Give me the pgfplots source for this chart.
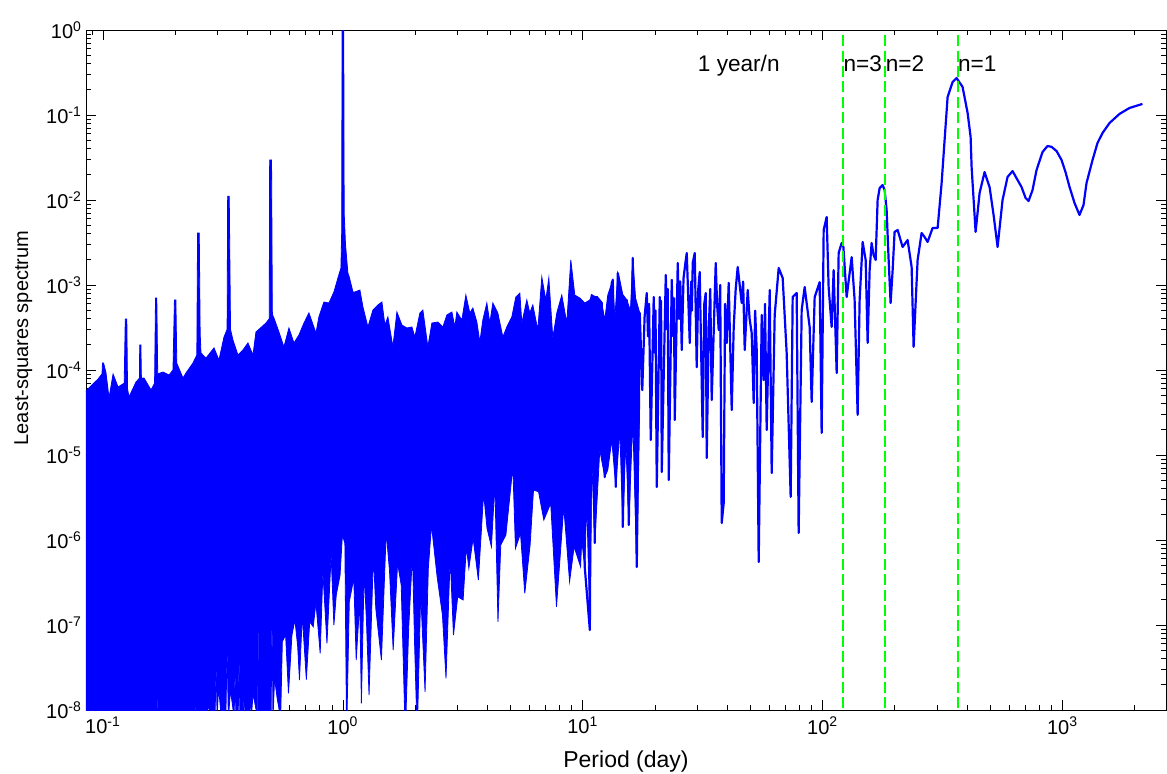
\documentclass[border=0pt]{standalone}
\usepackage{fontspec}
\setmainfont{Liberation Sans}
\usepackage{pgfplots}
\pgfplotsset{compat=1.18}
\definecolor{mblue}{rgb}{0,0,1}
\definecolor{mgreen}{rgb}{0,1,0}
\begin{document}
\begin{tikzpicture}
\useasboundingbox (-43pt,-31.5pt) rectangle (540.5pt,355pt);
\begin{axis}[
  at={(0,0)}, anchor=south west,
  scale only axis, width=540pt, height=340pt,
  xmode=log, ymode=log,
  xmin=0.0849, xmax=2700, ymin=1e-8, ymax=1,
  xtick={0.1,1,10,100,1000},
  xticklabels={10\textsuperscript{-1},10\textsuperscript{0},10\textsuperscript{1},10\textsuperscript{2},10\textsuperscript{3}},
  minor xtick={0.09,0.2,0.3,0.4,0.5,0.6,0.7,0.8,0.9,2,3,4,5,6,7,8,9,20,30,40,50,60,70,80,90,200,300,400,500,600,700,800,900,2000},
  ytick={1e-8,1e-7,1e-6,1e-5,1e-4,1e-3,1e-2,1e-1,1},
  yticklabels={10\textsuperscript{-8},10\textsuperscript{-7},10\textsuperscript{-6},10\textsuperscript{-5},10\textsuperscript{-4},10\textsuperscript{-3},10\textsuperscript{-2},10\textsuperscript{-1},10\textsuperscript{0}},
  minor ytick={2e-8,3e-8,4e-8,5e-8,6e-8,7e-8,8e-8,9e-8,
    2e-7,3e-7,4e-7,5e-7,6e-7,7e-7,8e-7,9e-7,
    2e-6,3e-6,4e-6,5e-6,6e-6,7e-6,8e-6,9e-6,
    2e-5,3e-5,4e-5,5e-5,6e-5,7e-5,8e-5,9e-5,
    2e-4,3e-4,4e-4,5e-4,6e-4,7e-4,8e-4,9e-4,
    2e-3,3e-3,4e-3,5e-3,6e-3,7e-3,8e-3,9e-3,
    0.02,0.03,0.04,0.05,0.06,0.07,0.08,0.09,
    0.2,0.3,0.4,0.5,0.6,0.7,0.8,0.9},
  tick align=inside,
  major tick length=5pt, minor tick length=2.5pt,
  every tick/.style={black, line width=0.4pt},
  yticklabel style={xshift=1.5pt},
  xlabel={Period (day)},
  ylabel={Least-squares spectrum},
  xlabel style={font=\fontsize{11.5}{13}\selectfont, at={(axis description cs:0.5,0)}, anchor=base, yshift=-28.8pt},
  ylabel style={at={(axis description cs:-0.0537,0.547)}, anchor=base},
]
% dense part of the spectrum (below ~17 days): upper envelope, then lower envelope back
\addplot[mblue, fill=mblue, line width=0.4pt] coordinates {
(0.084,5.51e-5) (0.0908,6.84e-5) (0.0953,7.83e-5) (0.0990,9.0e-5) (0.0995,1.21e-4) (0.1005,1.21e-4)
(0.1029,9.23e-5) (0.1059,4.69e-5) (0.1101,8.97e-5) (0.1155,6.31e-5) (0.1225,7.0e-5) (0.1238,3.98e-4)
(0.1256,3.98e-4) (0.1265,6.0e-5) (0.1283,4.81e-5) (0.1372,7.23e-5) (0.1418,8.0e-5) (0.1422,1.97e-4)
(0.1438,1.97e-4) (0.1445,8.0e-5) (0.1482,8.05e-5) (0.1585,5.82e-5) (0.1640,7.0e-5) (0.1655,7.03e-4)
(0.1675,7.03e-4) (0.1690,9.0e-5) (0.1778,9.47e-5) (0.1884,8.73e-5) (0.1957,1.0e-4) (0.1985,6.67e-4)
(0.2012,6.67e-4) (0.2030,1.2e-4) (0.2154,8.05e-5) (0.2218,9.23e-5) (0.2371,1.21e-4) (0.2460,1.5e-4)
(0.2478,4.09e-3) (0.2518,4.09e-3) (0.2540,2.7e-4) (0.2560,1.585e-4) (0.2686,1.38e-4) (0.2901,1.82e-4)
(0.3043,1.31e-4) (0.3192,2.44e-4) (0.3290,3.0e-4) (0.3308,1.11e-2) (0.3358,1.11e-2) (0.3400,3.0e-4)
(0.3480,2.25e-4) (0.3652,1.50e-4) (0.3831,1.72e-4) (0.4019,2.08e-4) (0.4217,1.50e-4) (0.4340,2.80e-4)
(0.4777,3.57e-4) (0.4930,4.0e-4) (0.4950,2.96e-2) (0.5040,2.96e-2) (0.5080,4.5e-4) (0.5158,4.09e-4)
(0.5412,2.80e-4) (0.5677,1.87e-4) (0.5957,3.12e-4) (0.6249,2.08e-4) (0.6556,2.58e-4) (0.6879,3.57e-4)
(0.7217,4.69e-4) (0.7722,2.72e-4) (0.7943,4.21e-4) (0.8333,6.31e-4) (0.8743,6.14e-4) (0.9173,8.28e-4)
(0.9532,1.21e-3) (0.981,1.585e-3) (0.988,4.0e-3) (0.992,1.0) (1.008,1.0) (1.012,7.03e-3)
(1.025,3.0e-3) (1.049,1.38e-3) (1.063,1.24e-3) (1.101,8.28e-4) (1.122,8.28e-4) (1.177,8.73e-4)
(1.212,5.51e-4) (1.271,3.21e-4) (1.334,5.08e-4) (1.399,5.82e-4) (1.454,6.31e-4) (1.496,3.38e-4)
(1.540,4.21e-4) (1.616,1.87e-4) (1.679,4.81e-4) (1.762,3.38e-4) (1.848,3.12e-4) (1.939,3.21e-4)
(1.995,2.44e-4) (2.094,4.69e-4) (2.154,5.08e-4) (2.260,1.87e-4) (2.349,3.57e-4) (2.488,3.67e-4)
(2.610,3.21e-4) (2.712,4.44e-4) (2.846,4.81e-4) (2.929,3.21e-4) (2.985,4.81e-4) (3.132,3.87e-4)
(3.255,7.62e-4) (3.382,4.69e-4) (3.481,5.36e-4) (3.617,3.67e-4) (3.723,2.13e-4) (3.831,3.87e-4)
(3.981,6.14e-4) (4.097,3.57e-4) (4.217,6.14e-4) (4.424,4.69e-4) (4.642,2.44e-4) (4.823,3.21e-4)
(5.060,4.21e-4) (5.258,7.23e-4) (5.464,8.05e-4) (5.570,3.57e-4) (5.843,6.67e-4) (6.013,4.69e-4)
(6.189,5.82e-4) (6.494,2.96e-4) (6.748,1.24e-3) (7.013,6.67e-4) (7.218,1.21e-3) (7.499,2.38e-4)
(7.793,4.69e-4) (8.174,7.62e-4) (8.577,3.57e-4) (8.913,1.97e-3) (9.261,7.62e-4) (9.716,7.03e-4)
(10.19,6.14e-4) (10.70,6.67e-4) (10.90,7.62e-4) (11.44,7.23e-4) (12.00,6.14e-4) (12.35,3.87e-4)
(12.71,7.62e-4) (13.21,1.06e-3) (13.34,1.15e-3) (13.60,4.0e-4) (13.99,1.38e-3) (14.54,8.05e-4)
(15.26,6.67e-4) (15.80,5.0e-4) (16.16,2.08e-3) (16.60,7.0e-4) (17.28,4.69e-4)
(17.28,4.44e-5) (16.79,4.81e-7) (16.16,2.58e-5) (15.55,1.50e-6) (15.11,1.50e-5) (14.68,1.42e-6)
(14.27,1.97e-5) (13.73,4.21e-6) (13.21,1.50e-5) (12.71,6.67e-6) (12.35,5.51e-6) (11.77,1.15e-5)
(11.22,9.23e-7) (10.90,8.73e-6) (10.70,8.73e-8) (10.39,2.96e-6) (10.19,4.81e-7) (9.90,1.0e-6)
(9.79,4.85e-7) (9.20,8.34e-7) (8.81,3.24e-7) (8.33,2.47e-6) (7.77,1.64e-7) (7.35,2.70e-6)
(6.88,1.72e-6) (6.54,3.70e-6) (6.23,3.87e-6) (6.03,8.73e-7) (5.73,2.36e-7) (5.50,1.20e-6)
(5.24,7.98e-7) (5.11,7.28e-6) (4.78,1.15e-6) (4.55,8.73e-7) (4.43,1.09e-7) (4.30,4.64e-6)
(4.16,8.34e-7) (3.99,1.37e-6) (3.86,3.54e-6) (3.67,3.38e-7) (3.49,1.05e-6) (3.35,4.64e-7)
(3.27,8.34e-7) (3.17,1.97e-7) (3.01,2.15e-7) (2.89,7.62e-8) (2.80,6.37e-7) (2.69,2.36e-8)
(2.60,1.31e-7) (2.47,3.71e-7) (2.34,1.50e-6) (2.27,4.64e-7) (2.20,1.64e-8) (2.11,2.36e-7)
(2.04,5e-9) (1.99,6.08e-8) (1.95,6.98e-7) (1.88,9.14e-8) (1.82,5e-9) (1.75,2.96e-7)
(1.69,5.32e-7) (1.62,5.08e-8) (1.565,4.24e-7) (1.515,1.25e-6) (1.447,3.87e-8) (1.371,1.57e-7)
(1.340,6.67e-7) (1.285,1.50e-8) (1.254,1.09e-7) (1.226,4.24e-7) (1.194,1.20e-8) (1.175,1.88e-7)
(1.136,3.87e-8) (1.110,3.54e-7) (1.063,1.88e-7) (1.036,5e-9) (1.019,9.14e-7) (0.995,1.15e-6)
(0.973,3.87e-7) (0.938,2.25e-7) (0.917,1.0e-7) (0.893,6.67e-7) (0.858,6.08e-8) (0.825,4.24e-7)
(0.804,4.64e-8) (0.772,1.83e-7) (0.752,9.55e-8) (0.727,1.09e-7) (0.704,2.28e-8) (0.677,1.31e-7)
(0.659,2.25e-8) (0.648,5.56e-8) (0.631,1.15e-7) (0.613,7.62e-8) (0.593,1.57e-8) (0.577,7.62e-8)
(0.559,6.37e-8) (0.550,8e-9) (0.532,1.37e-8) (0.519,2.36e-8) (0.511,8e-9) (0.506,1.88e-7) (0.502,8e-9)
(0.481,5e-9) (0.465,1.2e-8) (0.461,8e-9) (0.458,3.54e-8) (0.455,8e-9) (0.445,8e-9) (0.443,2.36e-7)
(0.441,8e-9) (0.422,1.57e-8) (0.415,8e-9) (0.412,3.10e-8) (0.409,8e-9) (0.401,5e-9) (0.391,8e-9)
(0.388,2.82e-8) (0.385,8e-9) (0.382,5e-9) (0.372,8e-9) (0.369,5.18e-8) (0.366,8e-9) (0.361,1.25e-8)
(0.358,8e-9) (0.355,3.38e-8) (0.352,8e-9) (0.340,1.72e-8) (0.333,8e-9) (0.329,5.32e-8) (0.325,8e-9)
(0.316,5e-9) (0.303,1.88e-8) (0.299,8e-9) (0.296,3.54e-8) (0.293,8e-9) (0.274,1.09e-8) (0.270,5e-9)
(0.2455,5e-9) (0.244,1.6e-8) (0.2425,5e-9) (0.2272,5e-9) (0.226,1.6e-8) (0.2248,5e-9)
(0.2146,5e-9) (0.2134,1.6e-8) (0.2122,5e-9) (0.169,5e-9) (0.168,1.8e-8) (0.167,5e-9) (0.084,5e-9)
};
% the spectrum above ~10 days
\addplot[mblue, line width=1.1pt, line join=round] coordinates {
(9.716,7.03e-4) (10.19,4.81e-7) (10.70,8.73e-8) (10.90,7.62e-4) (11.22,9.23e-7) (11.44,7.23e-4)
(12.00,6.14e-4) (12.35,5.51e-6) (13.21,1.06e-3) (13.34,1.15e-3) (13.73,4.21e-6) (13.99,1.38e-3)
(14.54,8.05e-4) (14.68,1.42e-6) (15.26,6.67e-4) (15.55,1.50e-6) (16.16,2.08e-3) (16.79,4.81e-7)
(17.28,4.69e-4) (17.7,5.8e-5) (18.1,4.2e-4) (18.48,8.05e-4) (18.7,2.5e-4) (18.9,6.0e-4)
(19.20,1.50e-5) (19.76,7.23e-4) (19.95,1.6e-4) (20.1,5.0e-4) (20.34,4.21e-6) (20.94,7.23e-4)
(21.1,2.0e-4) (21.2,6.5e-4) (21.34,6.31e-6) (22.18,1.31e-3) (22.5,3.0e-4) (22.6,9.0e-4)
(22.82,5.08e-6) (23.49,1.15e-3) (23.8,2.5e-4) (24.0,7.0e-4) (24.17,2.58e-5) (24.88,1.82e-3)
(25.2,4.0e-4) (25.5,1.1e-3) (25.85,1.72e-4) (26.3,1.2e-3) (26.87,1.97e-3) (27.13,2.38e-3)
(27.92,2.08e-4) (28.3,1.1e-3) (28.5,5.0e-4) (28.73,1.82e-3) (29.29,2.38e-3) (29.85,1.08e-4)
(30.3,9.0e-4) (30.72,1.42e-3) (31.62,1.63e-5) (32.1,6.0e-4) (32.55,8.05e-4) (32.86,9.23e-6)
(33.5,3.0e-4) (34.0,9.0e-4) (34.47,4.44e-5) (35.83,1.82e-3) (36.3,6.0e-4) (36.87,2.96e-4)
(37.4,1.0e-3) (37.95,1.585e-6) (38.68,2.72e-6) (39.2,6.0e-4) (39.81,2.08e-4) (40.58,1.06e-3)
(41.77,3.38e-5) (42.58,3.21e-4) (43.4,9.0e-4) (44.24,1.63e-3) (45.97,6.14e-4) (46.6,1.1e-3)
(47.32,1.72e-4) (48.70,8.73e-4) (49.6,4.0e-4) (50.60,2.72e-4) (51.58,4.09e-5) (52.3,5.0e-4)
(53.09,1.72e-4) (54.12,5.51e-7) (55.70,4.44e-4) (56.79,7.62e-5) (57.5,6.0e-4) (58.44,1.97e-5)
(60.15,8.73e-4) (61.31,6.14e-6) (63.10,4.44e-4) (65.57,1.585e-3) (68.13,1.21e-3) (70.79,1.585e-4)
(73.56,3.21e-6) (74.99,7.23e-4) (77.93,8.05e-4) (79.43,1.21e-6) (81.75,5.08e-4) (84.14,9.47e-4)
(88.27,3.21e-4) (89.99,4.21e-5) (92.62,7.23e-4) (97.16,1.08e-3) (99.04,1.82e-5) (100.97,4.44e-3)
(103.9,6.31e-3) (105.9,9.47e-4) (109.0,3.21e-4) (111.1,1.50e-3) (114.4,9.23e-5) (116.6,2.38e-3)
(120.0,3.12e-3) (122.0,2.80e-3) (125.9,7.23e-4) (132.1,2.13e-3) (135.9,6.67e-4) (139.9,2.96e-5)
(142.6,6.67e-4) (146.8,3.21e-3) (151.1,1.97e-3) (154.0,2.08e-4) (157.0,1.50e-3) (160.0,3.12e-3)
(163.1,2.25e-3) (166.3,1.97e-3) (169.5,1.0e-2) (172.8,1.38e-2) (177.8,1.50e-2) (181.3,1.31e-2)
(184.8,7.62e-3) (188.4,1.97e-3) (192.0,6.14e-4) (195.8,1.50e-3) (199.5,4.21e-3) (205.4,4.44e-3)
(215.4,2.80e-3) (226.0,3.38e-3) (234.9,1.63e-3) (239.4,1.87e-4) (248.8,1.97e-3) (258.5,4.09e-3)
(266.1,3.67e-3) (273.8,3.21e-3) (287.3,4.69e-3) (301.5,4.69e-3) (313.3,1.585e-2) (322.4,5.08e-2)
(331.8,0.163) (348.1,0.244) (361.7,0.272) (383.1,0.214) (402.0,0.106) (413.8,5.51e-2)
(417.8,2.44e-2) (434.1,4.21e-3) (451.1,1.21e-2) (473.2,2.13e-2) (496.5,1.42e-2) (515.9,6.67e-3)
(536.1,2.80e-3) (562.3,1.0e-2) (590.0,1.87e-2) (619.1,2.19e-2) (649.4,1.72e-2) (674.8,1.42e-2)
(701.2,1.06e-2) (721.8,9.73e-3) (749.9,1.31e-2) (779.3,2.25e-2) (825.4,3.67e-2) (865.9,4.32e-2)
(900.0,4.22e-2) (944.1,3.77e-2) (990.4,2.96e-2) (1029,2.13e-2) (1070,1.42e-2) (1122,9.23e-3)
(1177,6.67e-3) (1223,8.73e-3) (1259,1.585e-2) (1334,2.96e-2) (1399,4.69e-2) (1468,6.14e-2)
(1570,8.05e-2) (1728,0.103) (1902,0.121) (2154,0.135)
};
% one year divided by n
\addplot[mgreen, line width=1pt, dash pattern=on 5.5pt off 2.2pt] coordinates {(121.75,0.87) (121.75,1e-9)};
\addplot[mgreen, line width=1pt, dash pattern=on 5.5pt off 2.2pt] coordinates {(182.6,0.87) (182.6,1e-9)};
\addplot[mgreen, line width=1pt, dash pattern=on 5.5pt off 2.2pt] coordinates {(365.25,0.87) (365.25,1e-9)};
\node[anchor=base, inner sep=0pt, font=\fontsize{11.3}{13}\selectfont] at (axis cs:44.7,0.323) {1 year/n};
\node[anchor=base west, inner sep=0pt, font=\fontsize{11.3}{13}\selectfont] at (axis cs:121.75,0.323) {n=3};
\node[anchor=base west, inner sep=0pt, font=\fontsize{11.3}{13}\selectfont] at (axis cs:182.6,0.323) {n=2};
\node[anchor=base west, inner sep=0pt, font=\fontsize{11.3}{13}\selectfont] at (axis cs:365.25,0.323) {n=1};
\end{axis}
\end{tikzpicture}
\end{document}
